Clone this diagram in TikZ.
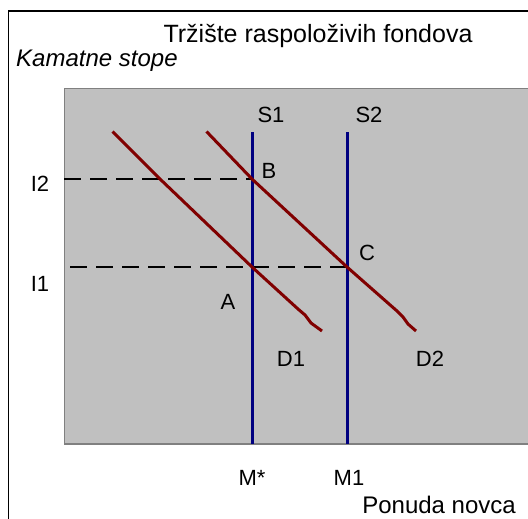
\documentclass[tikz,border=0pt]{standalone}
\usepackage{fontspec}
\setmainfont{Liberation Sans}
\definecolor{plotgray}{HTML}{C0C0C0}
\definecolor{plotedge}{HTML}{808080}
\definecolor{dred}{HTML}{800000}
\definecolor{dblue}{HTML}{000080}
\begin{document}
\begin{tikzpicture}[x=1pt,y=-1pt,
  lbl/.style={inner sep=0pt, font=\fontsize{22}{22}\selectfont},
  bigtxt/.style={inner sep=0pt, font=\fontsize{25}{25}\selectfont},
  demand/.style={draw=dred, line width=3pt, line join=round},
  supply/.style={draw=dblue, line width=3pt},
  guide/.style={draw=black, line width=1.5pt, dash pattern=on 17pt off 9pt}]
\useasboundingbox (0,0) rectangle (528,519);
\clip (0,0) rectangle (528,519);
\fill[white] (0,0) rectangle (528,519);
% outer frame
\draw[black, line width=1.6pt] (8.5,11) rectangle (545,545);
% plot area
\draw[plotedge, fill=plotgray, line width=1.5pt] (64.5,88.5) rectangle (545,444);
% key points
\coordinate (B) at (252,179);
\coordinate (C) at (347,267);
\coordinate (A) at (252,267);
\coordinate (I2s) at (64,179);
\coordinate (I1s) at (70,267);
\coordinate (S1t) at (252,132);
\coordinate (S1b) at (252,444);
\coordinate (S2t) at (347,132);
\coordinate (S2b) at (347,444);
% dashed guides
\draw[guide] (I2s) -- (B);
\draw[guide] (I1s) -- (C);
% supply lines
\draw[supply] (S1t) -- (S1b);
\draw[supply] (S2t) -- (S2b);
% demand lines
\draw[demand] (112.5,131.5) -- (160,179) -- (A) -- (298,309) -- (305,315) -- (311,323) -- (322,331);
\draw[demand] (206.5,131.5) -- (B) -- (C) -- (397,311) -- (403,317) -- (408,324) -- (416,331);
% title and axis labels
\node[bigtxt, anchor=base] (title) at (318,43) {Tržište raspoloživih fondova};
\begin{scope}
\clip (0,40) rectangle (300,70.5);
\node[bigtxt, anchor=base west, font=\fontsize{24}{24}\selectfont\itshape] (yaxis) at (16,67) {Kamatne stope};
\end{scope}
\node[bigtxt, anchor=base east, font=\fontsize{24}{24}\selectfont] (xaxis) at (516,513) {Ponuda novca};
% labels
\node[lbl, anchor=base] (lS1) at (271,123) {S1};
\node[lbl, anchor=base] (lS2) at (369,123) {S2};
\node[lbl, anchor=base] (lB) at (269,178) {B};
\node[lbl, anchor=base] (lC) at (367,260) {C};
\node[lbl, anchor=base] (lA) at (228,309) {A};
\node[lbl, anchor=base] (lD1) at (291,366) {D1};
\node[lbl, anchor=base] (lD2) at (430,366) {D2};
\node[lbl, anchor=base] (lI2) at (40,191) {I2};
\node[lbl, anchor=base] (lI1) at (40,291) {I1};
\node[lbl, anchor=base] (lMs) at (252,485) {M*};
\node[lbl, anchor=base] (lM1) at (349,485) {M1};
\end{tikzpicture}
\end{document}
